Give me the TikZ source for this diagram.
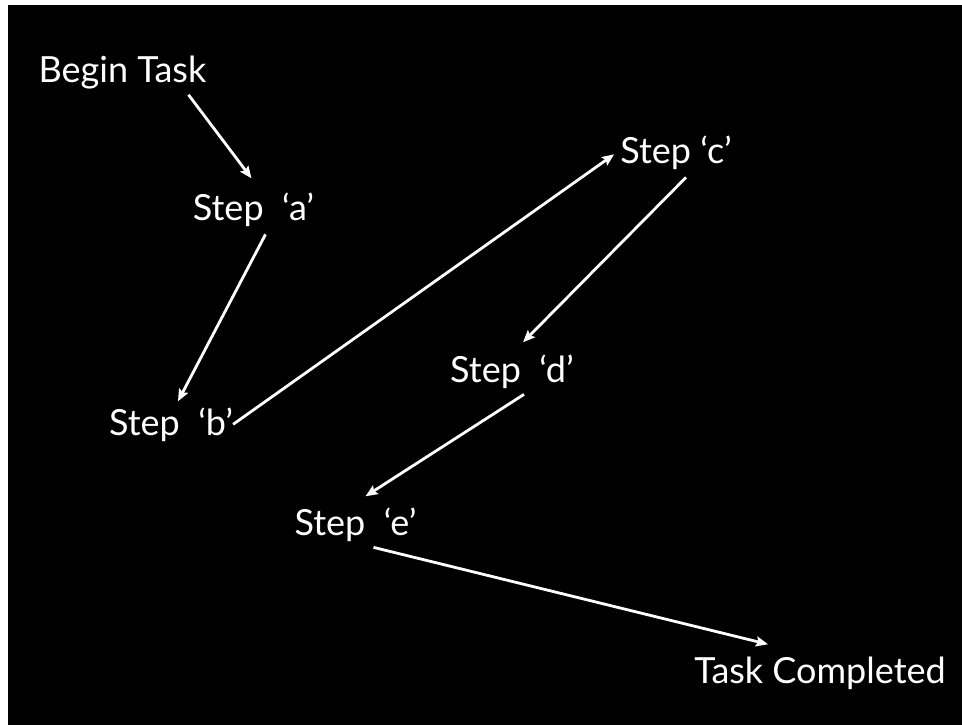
\documentclass[tikz,border=0pt]{standalone}
\usepackage{fontspec}
\setmainfont{Lato}
\usetikzlibrary{arrows.meta}

\begin{document}
\begin{tikzpicture}[x=1pt,y=-1pt,
  lbl/.style = {text=white,inner sep=2pt,anchor=base,
        font=\fontsize{36}{42}\selectfont},
  arr/.style = {draw=white,line width=2.8pt,
        -{Stealth[length=12pt,width=10pt,inset=2pt]}}]
 \fill[white] (0,0) rectangle (962,725);
 \fill[black] (8,5) rectangle (962,725);
 \node[lbl] (begin) at (122.5,82)  {Begin Task};
 \node[lbl] (sa)    at (253.5,220) {Step\ \ ‘a’};
 \node[lbl] (sb)    at (171,435)   {Step\ \ ‘b’};
 \node[lbl] (sc)    at (676,163)   {Step ‘c’};
 \node[lbl] (sd)    at (512,382)   {Step\ \ ‘d’};
 \node[lbl] (se)    at (355.5,535) {Step\ \ ‘e’};
 \node[lbl] (done)  at (820,683)   {Task Completed};
 \begin{scope}[arr]
  \path ([xshift=-20pt,yshift=-4pt]begin.south east) edge ([xshift=-2pt,yshift=12pt]sa.north);
  \path ([xshift=12pt,yshift=-6pt]sa.south) edge ([xshift=7pt,yshift=4pt]sb.north);
  \path ([xshift=-2pt]sb.east) edge ([xshift=-4pt,yshift=-2pt]sc.west);
  \path ([xshift=10pt,yshift=-6pt]sc.south) edge ([xshift=11pt,yshift=10pt]sd.north);
  \path ([xshift=12pt,yshift=-4pt]sd.south) edge ([xshift=10pt,yshift=9pt]se.north);
  \path ([xshift=18pt,yshift=-4pt]se.south) edge ([xshift=-52pt,yshift=10pt]done.north);
 \end{scope}
\end{tikzpicture}
\end{document}
